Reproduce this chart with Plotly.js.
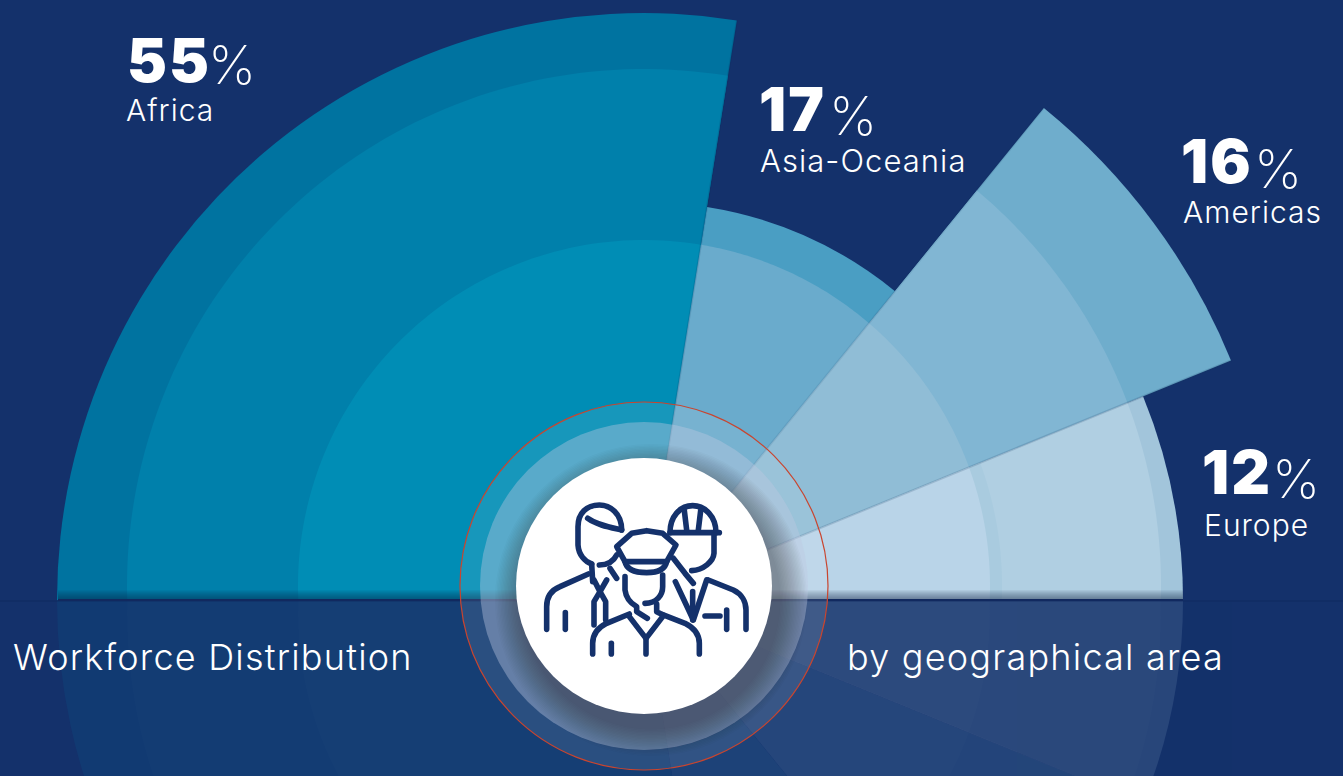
<!DOCTYPE html>
<html>
<head>
<meta charset="utf-8">
<script src="https://cdn.plot.ly/plotly-3.0.1.min.js"></script>
<style>
html,body{margin:0;padding:0;width:1343px;height:776px;overflow:hidden;background:#14316b}
#chart{position:absolute;left:0;top:-44px;width:1343px;height:1288px}
.shapelayer path{stroke-linecap:round;stroke-linejoin:round}
.annotation-text{letter-spacing:.034em}
</style>
</head>
<body>
<div id="chart"></div>
<script>
// ---- data ----
const regions = ['Africa', 'Asia-Oceania', 'Americas', 'Europe'];
const shares = [55, 17, 16, 12];
const sweeps = [99.1, 30.0, 28.7, 22.2];       // degrees of each wedge
const radii = [587, 398, 634, 539];            // radial length of each wedge
const outerColors = ['#0073a0', '#4a9ec3', '#6fadcc', '#a2c5db'];
const midColors = ['#0080ab', '#6aabcc', '#81b6d3', '#b0cfe2'];
const innerColors = ['#008db5', '#6aabcc', '#90bdd6', '#b9d4e8'];
const ringRadii = [517, 346];
const bandRadius = 358;
const bandColor = '#a9cbdf';                   // soft band in Europe only

const W = 1343, H = 1288, TOP = 44, CY = 600, RINGCY = 586;
const px = x => x / W;
const py = y => 1 - (y + TOP) / H;

// running angles
const ends = [], mids = [];
let a = 180;
sweeps.forEach(s => { mids.push(a - s / 2); a -= s; ends.push(a); });

function ringR(theta, R) {
  const d = CY - RINGCY, t = theta * Math.PI / 180;
  return d * Math.sin(t) + Math.sqrt(R * R - d * d * Math.cos(t) * Math.cos(t));
}
function ringTrace(i, R, color, mirror) {
  const th = [0], rr = [0];
  const from = mids[i] + sweeps[i] / 2, to = ends[i];
  for (let t = from; t > to - 0.001; t -= Math.max(0.5, (from - to) / 80)) {
    th.push(mirror ? -t : t); rr.push(Math.min(ringR(t, R), radii[i]));
  }
  th.push(mirror ? -to : to); rr.push(Math.min(ringR(to, R), radii[i]));
  th.push(0); rr.push(0);
  return {type: 'scatterpolar', mode: 'lines', theta: th, r: rr, fill: 'toself',
    fillcolor: color, line: {width: 0}, hoverinfo: 'skip', showlegend: false};
}
function edgeTrace(theta, len, color, width) {
  return {type: 'scatterpolar', mode: 'lines', theta: [theta, theta], r: [0, len],
    line: {color: color, width: width}, hoverinfo: 'skip', showlegend: false};
}

const traces = [];
// reflection below the horizon
traces.push({type: 'barpolar', theta: mids.map(m => -m), r: radii, width: sweeps,
  marker: {color: outerColors, line: {width: 0}}, opacity: 0.14, hoverinfo: 'skip', showlegend: false});
// wedges above the horizon
traces.push({type: 'barpolar', theta: mids, r: radii, width: sweeps, text: regions,
  marker: {color: outerColors, line: {width: 0}}, hoverinfo: 'text', showlegend: false});
regions.forEach((_, i) => {
  if (ringR(mids[i], ringRadii[0]) < radii[i]) traces.push(ringTrace(i, ringRadii[0], midColors[i], false));
  if (i === 3) traces.push(ringTrace(i, bandRadius, bandColor, false));
  traces.push(ringTrace(i, ringRadii[1], innerColors[i], false));
  if (ringR(mids[i], ringRadii[0]) < radii[i]) traces.push(ringTrace(i, ringRadii[0], 'rgba(255,255,255,0.012)', true));
  traces.push(ringTrace(i, ringRadii[1], 'rgba(255,255,255,0.012)', true));
});
// soft wedge edges
traces.push(edgeTrace(ends[0], radii[0], 'rgba(0,50,90,0.15)', 2));
traces.push(edgeTrace(ends[1], radii[2], 'rgba(20,60,100,0.10)', 2));
traces.push(edgeTrace(ends[2], radii[2], 'rgba(20,60,100,0.18)', 2));
traces.push(edgeTrace(-ends[2], radii[3], 'rgba(255,255,255,0.03)', 1));

// ---- decoration ----
const shapes = [];
function circle(cx, cy, r, fill, lineColor, lineWidth) {
  shapes.push({type: 'circle', xref: 'paper', yref: 'paper', layer: 'above',
    x0: px(cx - r), x1: px(cx + r), y0: py(cy + r), y1: py(cy - r),
    fillcolor: fill, line: {color: lineColor || 'rgba(0,0,0,0)', width: lineWidth || 0}});
}
function rect(x0, y0, x1, y1, fill) {
  shapes.push({type: 'rect', xref: 'paper', yref: 'paper', layer: 'above',
    x0: px(x0), x1: px(x1), y0: py(y1), y1: py(y0), fillcolor: fill, line: {width: 0}});
}
// shadow at the horizon, darkening towards the line
for (let i = 0; i < 10; i++) rect(58, 590 + i, 1183, 600, 'rgba(15,30,70,0.06)');
rect(0, 600, 1343, 602, 'rgba(12,35,90,0.3)');
rect(58, 599, 1183, 601, '#11295f');
// halo rings
circle(644, 586, 184, 'rgba(255,255,255,0.09)', '#c9452f', 1.2);
circle(644, 586, 164, 'rgba(190,200,225,0.40)');
// disc shadow, offset towards the lower right
for (let i = 0; i < 20; i++) circle(651, 600, 156 - i * 1.4, 'rgba(25,30,50,0.024)');
circle(644, 586, 128, '#ffffff');

// icon: three workers, written in a 3x grid whose origin is (440, 390)
const iconBack = [
  'M545 420C545 370 510 345 478 345C440 345 414 370 414 410L414 465C416 495 435 515 455 522',
  'M443 385C470 405 510 412 545 420', 'M478 525C500 525 520 515 530 495',
  'M455 522L458 575', 'M510 535L530 565',
  'M445 552L360 590C335 600 320 620 320 650L320 718', 'M376 668L376 718',
  'M462 570L480 605L500 570', 'M480 605L462 635L462 705', 'M480 605L497 635L497 690',
  'M690 428C690 380 720 347 758 347C795 347 828 380 828 428', 'M690 428L838 428',
  'M733 362L740 420', 'M782 362L775 420',
  'M822 435L822 490C820 515 790 540 755 542', 'M700 505L735 550L760 580',
  'M706 575L760 690L800 570', 'M758 605L758 690',
  'M805 570L880 600C905 612 918 635 918 660L918 718', 'M860 660L860 718', 'M795 678L840 678'
];
const iconMask = [
  'M540 515L540 610C550 640 575 655 585 660L568 672L500 700C470 715 458 735 458 760L458 800L778 800L778 760C778 735 765 715 735 700L665 672L655 660C670 650 685 625 685 590L685 515Z'
];
const iconFront = [
  'M620 422L575 430L530 470L555 515L680 515L708 465L668 430Z',
  'M555 515C560 540 590 548 620 548C650 548 675 540 680 515',
  'M555 560L555 600C558 625 572 640 590 650L590 665L622 685',
  'M615 640C650 640 668 615 668 590L668 555',
  'M650 642L650 665L668 674',
  'M568 672L500 700C470 715 458 735 458 760L458 792',
  'M668 674L735 700C765 715 778 735 778 760L778 792',
  'M568 680L618 745L668 680', 'M618 745L618 792', 'M514 760L514 792'
];
function toPaper(d) {
  return d.replace(/(\d+) (\d+)/g, (_, x, y) =>
    px(440 + (+x) / 3).toFixed(6) + ',' + py(390 + (+y) / 3).toFixed(6));
}
function iconShape(d, fill, color, width) {
  shapes.push({type: 'path', path: toPaper(d), xref: 'paper', yref: 'paper', layer: 'above',
    line: {color: color, width: width}, fillcolor: fill});
}
iconBack.forEach(d => iconShape(d, 'rgba(0,0,0,0)', '#14316b', 5.6));
iconMask.forEach(d => iconShape(d, '#ffffff', 'rgba(0,0,0,0)', 0));
iconFront.forEach((d, i) => iconShape(d, i === 0 ? '#ffffff' : 'rgba(0,0,0,0)', '#14316b', 5.6));

// ---- text ----
const FONT = 'Inter, Lato, sans-serif';
const annotations = [];
function label(text, x, y, size, weight) {
  annotations.push({text: text, x: px(x), y: py(y), xref: 'paper', yref: 'paper', showarrow: false,
    xanchor: 'left', yanchor: 'middle', align: 'left', borderpad: 0,
    font: {family: FONT, size: size, color: '#ffffff', weight: weight}});
}
const numPos = [[126, 60], [758, 109], [1180, 161], [1201, 472]];
const pctPos = [[207, 65], [828, 115], [1253, 168], [1271, 479]];
const namePos = [[125, 110], [759, 160], [1182, 212], [1203, 525]];
shares.forEach((s, i) => {
  label(String(s), numPos[i][0], numPos[i][1], 60, 900);
  label('%', pctPos[i][0], pctPos[i][1], 54, 200);
  label(regions[i], namePos[i][0], namePos[i][1], i === 1 ? 31 : 30, 300);
});
label('Workforce Distribution', 12, 657, 36, 300);
label('by geographical area', 846, 657, 36, 300);

const layout = {
  width: W, height: H, margin: {l: 0, r: 0, t: 0, b: 0},
  paper_bgcolor: '#14316b', plot_bgcolor: 'rgba(0,0,0,0)', showlegend: false,
  polar: {
    domain: {x: [0, 1288 / W], y: [0, 1]},
    bgcolor: 'rgba(0,0,0,0)', barmode: 'overlay',
    radialaxis: {visible: false, range: [0, 644]},
    angularaxis: {visible: false, rotation: 0, direction: 'counterclockwise'}
  },
  shapes: shapes, annotations: annotations
};
Plotly.newPlot('chart', traces, layout, {displayModeBar: false, staticPlot: true});
</script>
</body>
</html>
